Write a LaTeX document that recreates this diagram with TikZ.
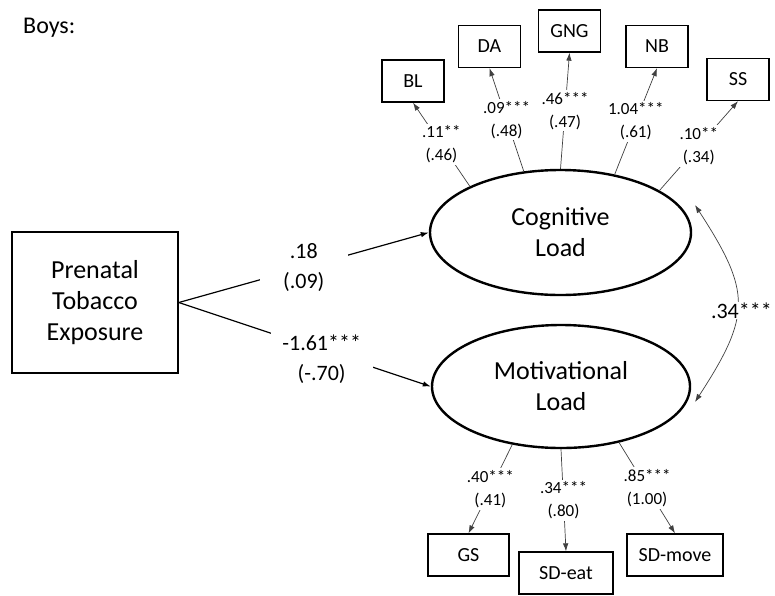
\documentclass[tikz,border=0pt]{standalone}
\usepackage{fontspec}
\setmainfont{Carlito}
\usepackage{tikz}
\usetikzlibrary{shapes.geometric}
\usetikzlibrary{arrows.meta}
\tikzset{>={Latex[length=8pt,width=5.5pt]}}
\tikzset{latent/.style = {shape=ellipse,draw,line width=2.4pt,minimum width=261pt,minimum height=125pt,inner sep=0pt,align=center,font=\fontsize{26}{31}\selectfont}}
\tikzset{manifest/.style = {shape=rectangle,draw,line width=1.3pt,minimum width=62pt,minimum height=42pt,inner sep=2pt,font=\fontsize{20}{24}\selectfont}}
\tikzset{loading/.style = {->,draw=black!75,line width=0.7pt}}
\tikzset{regpath/.style = {->,line width=1.2pt}}
\tikzset{coef/.style = {fill=white,align=center,inner sep=2pt,font=\fontsize{17}{23}\selectfont}}
\tikzset{bigcoef/.style = {fill=white,align=center,inner sep=3pt,font=\fontsize{22}{30}\selectfont}}

\begin{document}
\begin{tikzpicture}[x=1pt,y=-1pt]
            \useasboundingbox (0,0) rectangle (775,595);

            % Vertices
            \node[anchor=base west,inner sep=0pt,font=\fontsize{24}{28}\selectfont] (title) at (23,33) {Boys:};
            \node[draw,line width=1.6pt,minimum width=166pt,minimum height=141pt,align=center,font=\fontsize{26}{31}\selectfont] (pte) at (95,302.5) {Prenatal\\Tobacco\\Exposure};
            \node[latent] (cog) at (560.5,232.5) {Cognitive\\Load};
            \node[latent,minimum width=258pt,minimum height=123pt] (mot) at (561,386.5) {Motivational\\Load};

            % indicators
            \node[manifest] (bl) at (413,81) {BL};
            \node[manifest] (da) at (489.5,46.5) {DA};
            \node[manifest] (gng) at (569.5,31) {GNG};
            \node[manifest] (nb) at (657,46.5) {NB};
            \node[manifest] (ss) at (738,79.5) {SS};
            \node[manifest,minimum width=81pt] (gs) at (468.5,555) {GS};
            \node[manifest,minimum width=94pt] (sdeat) at (566,573) {SD-eat};
            \node[manifest,minimum width=96pt] (sdmove) at (675,555) {SD-move};

            \coordinate (corrtop) at (695,205);
            \coordinate (corrbot) at (695,402);

            % Edges
            % cognitive load
            \draw[loading] (cog.153) -- node[coef]{.11**\\(.46)} (bl.south);
            \draw[loading] (cog.121) -- node[coef]{.09***\\(.48)} (da.south);
            \draw[loading] (cog.90) -- node[coef]{.46***\\(.47)} (gng.south);
            \draw[loading] (cog.47) -- node[coef]{1.04***\\(.61)} (nb.south);
            \draw[loading] (cog.23) -- node[coef]{.10**\\(.34)} (ss.south);

            % motivational load
            \draw[loading] (mot.230) -- node[coef]{.40***\\(.41)} (gs.north);
            \draw[loading] (mot.270) -- node[coef]{.34***\\(.80)} (sdeat.north);
            \draw[loading] (mot.316) -- node[coef]{.85***\\(1.00)} (sdmove.north);

            % exposure
            \draw[regpath] (pte.east) -- node[bigcoef,minimum width=88pt]{.18\\(.09)} (cog.west);
            \draw[regpath] (pte.east) -- node[bigcoef,pos=0.567,yshift=-9pt,minimum width=102pt]{-1.61***\\(-.70)} (mot.west);

            % covariance
            \draw[<->,draw=black!75,line width=0.7pt] (corrtop) to[bend left=33,looseness=1.35] node[bigcoef,inner sep=1pt,xshift=4pt,yshift=-7pt]{.34***} (corrbot);
        \end{tikzpicture}
\end{document}
